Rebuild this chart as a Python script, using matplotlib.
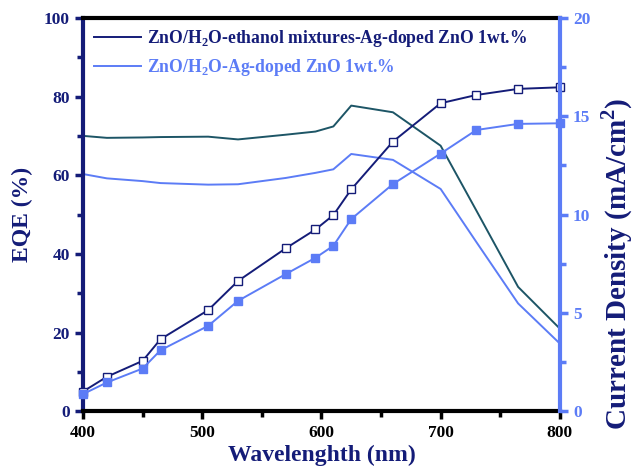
import matplotlib
matplotlib.use("Agg")
import matplotlib.pyplot as plt
from matplotlib.lines import Line2D

plt.rcParams['font.family'] = ['Liberation Serif', 'DejaVu Serif']
plt.rcParams['font.weight'] = 'bold'
plt.rcParams['mathtext.fontset'] = 'custom'
plt.rcParams['mathtext.rm'] = 'Liberation Serif:bold'
plt.rcParams['mathtext.bf'] = 'Liberation Serif:bold'

# wavelength (nm)
wavelength = [400, 420, 450, 465, 505, 530, 570, 595, 610, 625, 660, 700, 730, 765, 800]

# EQE (%) curves
eqe_ethanol = [70.0, 69.5, 69.6, 69.7, 69.8, 69.1, 70.3, 71.1, 72.4, 77.7, 76.0, 67.5, 51.0, 31.6, 21.0]
eqe_water = [60.3, 59.2, 58.5, 58.0, 57.6, 57.7, 59.3, 60.6, 61.5, 65.4, 63.9, 56.5, 43.0, 27.4, 17.2]

# integrated current density (mA/cm2)
jsc_ethanol = [1.0, 1.75, 2.56, 3.66, 5.14, 6.62, 8.28, 9.24, 9.97, 11.28, 13.71, 15.66, 16.08, 16.39, 16.47]
jsc_water = [0.87, 1.46, 2.17, 3.10, 4.34, 5.61, 6.97, 7.80, 8.41, 9.77, 11.55, 13.10, 14.30, 14.61, 14.64]

legend_labels = ["ZnO/H$_2$O-ethanol mixtures-Ag-doped ZnO 1wt.%",
                 "ZnO/H$_2$O-Ag-doped ZnO 1wt.%"]

navy = '#141c78'
teal = '#1d5566'
light = '#5c7cf6'

fig = plt.figure(figsize=(6.34, 4.71), dpi=100)
ax = fig.add_axes([0.131, 0.127, 0.752, 0.835])
ax2 = ax.twinx()

ax.plot(wavelength, eqe_ethanol, color=teal, lw=1.4)
ax.plot(wavelength, eqe_water, color=light, lw=1.4)
ax2.plot(wavelength, jsc_ethanol, color=navy, lw=1.4, marker='s', ms=5.5,
         mfc='white', mec=navy, mew=1.0, clip_on=False)
ax2.plot(wavelength, jsc_water, color=light, lw=1.4, marker='s', ms=5.5,
         mfc=light, mec=light, clip_on=False)

ax.set_xlim(400, 800)
ax.set_ylim(0, 100)
ax2.set_ylim(0, 20)
ax.set_xticks([400, 500, 600, 700, 800])
ax.set_xticks([450, 550, 650, 750], minor=True)
ax.set_yticks([0, 20, 40, 60, 80, 100])
ax.set_yticks([10, 30, 50, 70, 90], minor=True)
ax2.set_yticks([0, 5, 10, 15, 20])
ax2.set_yticks([2.5, 7.5, 12.5, 17.5], minor=True)

for s in ['top', 'bottom']:
    ax.spines[s].set_color('black')
    ax.spines[s].set_linewidth(3)
ax.spines['left'].set_color(navy)
ax.spines['left'].set_linewidth(3)
ax2.spines['right'].set_color(light)
ax2.spines['right'].set_linewidth(3)
ax2.spines['left'].set_visible(False)
ax2.spines['top'].set_visible(False)
ax2.spines['bottom'].set_visible(False)
ax.spines['right'].set_visible(False)

ax.tick_params(axis='x', which='major', direction='out', length=6, width=2.5, colors='black', labelsize=12.5, pad=4)
ax.tick_params(axis='x', which='minor', direction='out', length=4, width=2.5, colors='black')
ax.tick_params(axis='y', which='major', direction='out', length=6, width=2.5, colors=navy, labelsize=12.5)
ax.tick_params(axis='y', which='minor', direction='out', length=4, width=2.5, colors=navy)
ax2.tick_params(axis='y', which='major', direction='out', length=6, width=2.5, colors=light, labelsize=12.5)
ax2.tick_params(axis='y', which='minor', direction='out', length=4, width=2.5, colors=light)

ax.set_xlabel("Wavelenghth (nm)", fontsize=17, color=navy, fontweight='bold', labelpad=3)
ax.set_ylabel("EQE (%)", fontsize=17, color=navy, fontweight='bold')
ax.yaxis.set_label_coords(-0.105, 0.5)
ax2.set_ylabel("Current Density (mA/cm$^2$)", fontsize=21, color=navy, fontweight='bold')
ax2.yaxis.set_label_coords(1.083, 0.375)

handles = [Line2D([], [], color=navy, lw=1.4), Line2D([], [], color=light, lw=1.4)]
leg = ax.legend(handles, legend_labels, loc='upper left', frameon=False,
                prop={'size': 12.7, 'weight': 'bold'}, handlelength=2.7,
                handletextpad=0.35, borderaxespad=0.2, labelspacing=0.45)
leg.get_texts()[0].set_color(navy)
leg.get_texts()[1].set_color(light)

fig.savefig("out.png", dpi=100)
